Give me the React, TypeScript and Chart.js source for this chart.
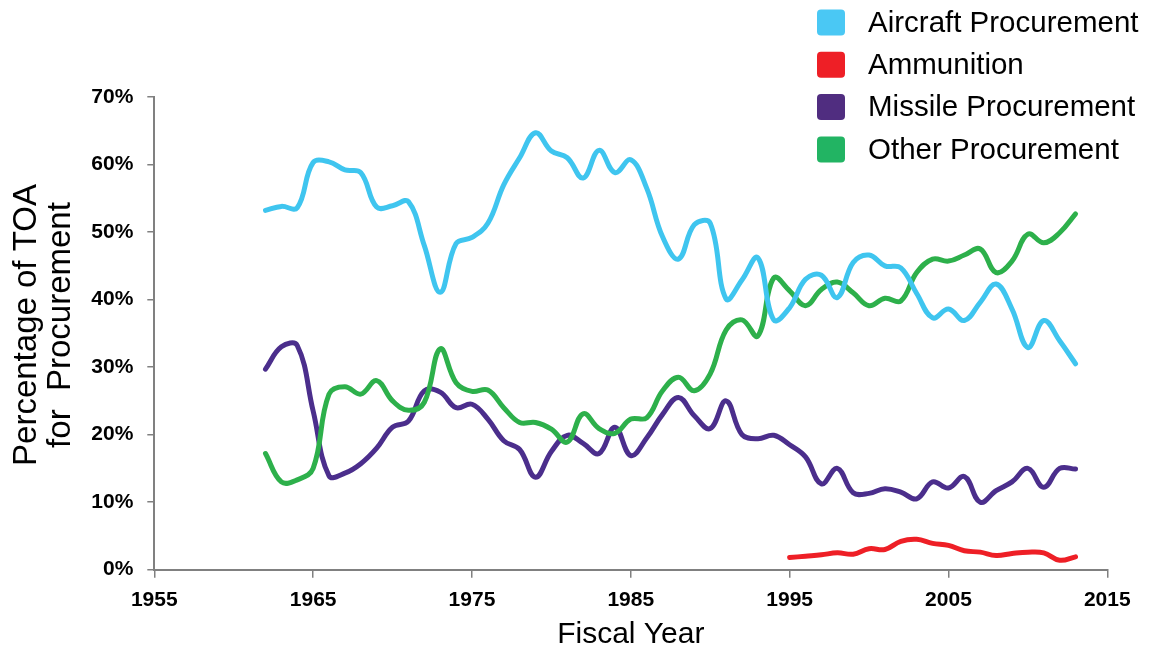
import React, { useEffect, useRef } from 'react';
import { Chart, registerables } from 'chart.js';

Chart.register(...registerables);

const FONT = '"Liberation Sans", Arial, Helvetica, sans-serif';

const YEARS = [
  1962, 1963, 1964, 1965, 1966, 1967, 1968, 1969, 1970, 1971,
  1972, 1973, 1974, 1975, 1976, 1977, 1978, 1979, 1980, 1981,
  1982, 1983, 1984, 1985, 1986, 1987, 1988, 1989, 1990, 1991,
  1992, 1993, 1994, 1995, 1996, 1997, 1998, 1999, 2000, 2001,
  2002, 2003, 2004, 2005, 2006, 2007, 2008, 2009, 2010, 2011,
  2012, 2013,
];

const AIRCRAFT = [
  53.2, 53.8, 53.6, 60.3, 60.4, 59.2, 58.8, 53.7, 53.9, 54.5,
  48.0, 41.1, 48.3, 49.2, 51.3, 57.0, 61.0, 64.7, 62.0, 61.0,
  58.0, 62.1, 58.8, 60.7, 56.5, 49.3, 46.0, 51.1, 51.3, 40.1,
  42.9, 46.2, 37.0, 38.8, 43.0, 43.6, 40.3, 45.5, 46.6, 45.0,
  44.7, 40.9, 37.3, 38.6, 36.9, 39.6, 42.3, 38.6, 32.9, 36.9,
  33.9, 30.5,
];

const AMMUNITION = [
  null, null, null, null, null, null, null, null, null, null,
  null, null, null, null, null, null, null, null, null, null,
  null, null, null, null, null, null, null, null, null, null,
  null, null, null, 1.8, 2.0, 2.2, 2.5, 2.3, 3.1, 3.0,
  4.2, 4.5, 3.9, 3.6, 2.8, 2.6, 2.1, 2.4, 2.6, 2.5,
  1.4, 1.9,
];

const MISSILE = [
  29.7, 33.0, 33.2, 23.5, 13.9, 14.3, 15.7, 18.0, 21.1, 22.0,
  26.5, 26.3, 24.0, 24.5, 22.3, 19.1, 17.8, 13.7, 17.5, 19.9,
  18.7, 17.2, 21.1, 16.9, 19.5, 23.0, 25.5, 22.8, 20.9, 25.0,
  20.0, 19.4, 19.9, 18.5, 16.7, 12.7, 15.0, 11.4, 11.3, 12.0,
  11.5, 10.5, 13.0, 12.1, 13.8, 10.0, 11.7, 13.0, 15.0, 12.2,
  15.0, 14.9,
];

const OTHER = [
  17.2, 13.0, 13.3, 15.0, 26.0, 27.1, 26.0, 28.0, 25.0, 23.6,
  24.8, 32.7, 27.7, 26.4, 26.6, 24.0, 21.8, 21.8, 20.8, 18.9,
  23.1, 20.9, 20.2, 22.3, 22.5, 26.5, 28.5, 26.5, 29.0, 35.5,
  37.0, 34.6, 43.2, 41.3, 39.1, 41.5, 42.6, 41.0, 39.1, 40.2,
  39.8, 44.0, 46.0, 45.7, 46.6, 47.5, 44.0, 45.7, 49.7, 48.4,
  49.9, 52.7,
];

const SERIES_LABELS = [
  'Aircraft Procurement',
  'Ammunition',
  'Missile Procurement',
  'Other Procurement',
];

const X_TITLE = 'Fiscal Year';
const Y_TITLE = ['Percentage of TOA', 'for  Procurement'];

function toPoints(values: (number | null)[]) {
  return YEARS.map((year, i) => ({ x: year, y: values[i] })).filter(
    (p) => p.y !== null
  );
}

const cornerLegend = {
  id: 'cornerLegend',
  afterDraw(chart: any) {
    const ctx = chart.ctx as CanvasRenderingContext2D;
    ctx.save();
    chart.data.datasets.forEach((ds: any, i: number) => {
      const cy = 22.5 + i * 42.3;
      ctx.fillStyle = ds.backgroundColor;
      ctx.beginPath();
      ctx.roundRect(817, cy - 13, 28, 26, 4);
      ctx.fill();
      ctx.fillStyle = '#000000';
      ctx.font = `29.5px ${FONT}`;
      ctx.textBaseline = 'middle';
      ctx.textAlign = 'left';
      ctx.fillText(ds.label, 868, cy + 1);
    });
    ctx.restore();
  },
};

const yAxisTitle = {
  id: 'yAxisTitle',
  afterDraw(chart: any) {
    const ctx = chart.ctx as CanvasRenderingContext2D;
    ctx.save();
    ctx.translate(0, 325);
    ctx.rotate(-Math.PI / 2);
    ctx.fillStyle = '#000000';
    ctx.font = `33px ${FONT}`;
    ctx.textAlign = 'center';
    ctx.textBaseline = 'alphabetic';
    Y_TITLE.forEach((line, i) => {
      ctx.fillText(line, 0, 35.5 + i * 34);
    });
    ctx.restore();
  },
};

export default function App() {
  const canvasRef = useRef<HTMLCanvasElement | null>(null);

  useEffect(() => {
    const canvas = canvasRef.current;
    if (!canvas) return;

    const lineCommon = {
      borderWidth: 5,
      pointRadius: 0,
      pointHoverRadius: 0,
      tension: 0.4,
      borderCapStyle: 'round' as const,
      borderJoinStyle: 'round' as const,
      spanGaps: false,
    };

    const chart = new Chart(canvas, {
      type: 'line',
      data: {
        datasets: [
          {
            label: SERIES_LABELS[0],
            data: toPoints(AIRCRAFT),
            borderColor: '#3FC5EF',
            backgroundColor: '#4AC8F4',
            order: 1,
            ...lineCommon,
          },
          {
            label: SERIES_LABELS[1],
            data: toPoints(AMMUNITION),
            borderColor: '#EE1F26',
            backgroundColor: '#EE1F26',
            order: 2,
            ...lineCommon,
          },
          {
            label: SERIES_LABELS[2],
            data: toPoints(MISSILE),
            borderColor: '#4B2E8C',
            backgroundColor: '#502D80',
            order: 4,
            ...lineCommon,
          },
          {
            label: SERIES_LABELS[3],
            data: toPoints(OTHER),
            borderColor: '#2DB04B',
            backgroundColor: '#22B463',
            order: 3,
            ...lineCommon,
          },
        ],
      },
      options: {
        animation: false,
        responsive: false,
        devicePixelRatio: 1,
        events: [],
        layout: {
          padding: { top: 97, right: 41.7, left: 0, bottom: 0 },
        },
        plugins: {
          legend: { display: false },
          tooltip: { enabled: false },
        },
        scales: {
          x: {
            type: 'linear',
            min: 1955,
            max: 2015,
            ticks: {
              stepSize: 10,
              autoSkip: false,
              maxRotation: 0,
              padding: 10,
              color: '#000000',
              font: { family: FONT, size: 21, weight: 'bold' },
              callback: (v: any) => String(v),
            },
            grid: {
              drawOnChartArea: false,
              drawTicks: true,
              tickLength: 8,
              color: '#808080',
              lineWidth: 1.5,
            },
            border: { display: true, color: '#808080', width: 2 },
            title: {
              display: true,
              text: X_TITLE,
              color: '#000000',
              font: { family: FONT, size: 30, lineHeight: 1 },
              padding: { top: 0, bottom: 0 },
            },
            afterFit: (scale: any) => {
              scale.height = 80.3;
            },
          },
          y: {
            type: 'linear',
            min: 0,
            max: 70,
            ticks: {
              stepSize: 10,
              padding: 14,
              color: '#000000',
              font: { family: FONT, size: 21, weight: 'bold' },
              callback: (v: any) => `${v}%`,
            },
            grid: {
              drawOnChartArea: false,
              drawTicks: true,
              tickLength: 7,
              color: '#808080',
              lineWidth: 1.5,
            },
            border: { display: true, color: '#808080', width: 2 },
            title: { display: false },
            afterFit: (scale: any) => {
              scale.width = 154.3;
            },
          },
        },
      },
      plugins: [cornerLegend, yAxisTitle],
    });

    return () => {
      chart.destroy();
    };
  }, []);

  return (
    <div
      style={{
        position: 'absolute',
        left: 0,
        top: 0,
        width: 1149,
        height: 650,
        background: '#ffffff',
      }}
    >
      <canvas
        ref={canvasRef}
        width={1149}
        height={650}
        style={{ display: 'block', width: 1149, height: 650 }}
      />
    </div>
  );
}
